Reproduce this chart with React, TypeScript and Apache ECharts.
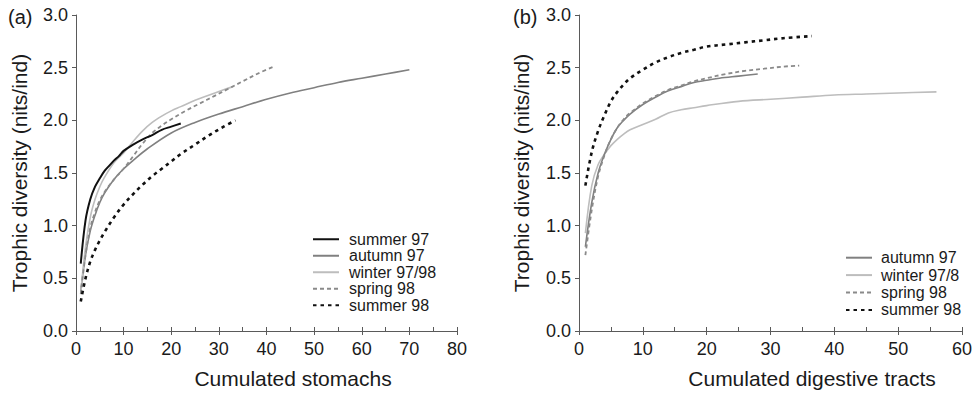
import React, { useEffect, useRef } from "react";
import * as echarts from "echarts";

// ---- Panel (a): cumulated stomachs ----
const aSummer97: number[][] = [[1,0.64],[2,1.05],[3,1.25],[4,1.37],[5,1.45],[6,1.52],[7,1.57],[8,1.62],[9,1.66],[10,1.71],[12,1.77],[14,1.82],[16,1.86],[18,1.91],[20,1.94],[22,1.97]];
const aAutumn97: number[][] = [[1,0.38],[2,0.72],[3,0.95],[4,1.1],[5,1.22],[6,1.31],[8,1.44],[10,1.54],[12,1.62],[15,1.73],[20,1.88],[25,1.98],[30,2.06],[35,2.13],[40,2.2],[45,2.26],[50,2.31],[55,2.36],[60,2.4],[65,2.44],[70,2.48]];
const aWinter9798: number[][] = [[1,0.36],[2,0.8],[3,1.08],[4,1.25],[5,1.37],[6,1.46],[8,1.6],[10,1.69],[12,1.8],[14,1.9],[16,1.98],[18,2.04],[20,2.09],[22,2.13],[25,2.19],[28,2.24],[31,2.29],[33,2.32]];
const aSpring98: number[][] = [[1,0.35],[2,0.72],[3,0.98],[4,1.13],[5,1.24],[6,1.32],[8,1.44],[10,1.54],[12,1.66],[14,1.78],[16,1.88],[18,1.95],[20,2.01],[23,2.09],[26,2.16],[29,2.23],[32,2.3],[35,2.37],[38,2.44],[41.5,2.51]];
const aSummer98: number[][] = [[1,0.28],[2,0.5],[3,0.66],[4,0.77],[5,0.86],[6,0.94],[8,1.08],[10,1.2],[12,1.3],[14,1.39],[16,1.47],[18,1.54],[20,1.61],[22,1.68],[25,1.77],[28,1.86],[31,1.94],[33.5,2.0]];

// ---- Panel (b): cumulated digestive tracts ----
const bAutumn97: number[][] = [[1,0.8],[2,1.22],[3,1.5],[4,1.68],[5,1.82],[6,1.93],[7,2.0],[8,2.06],[10,2.15],[12,2.22],[14,2.28],[16,2.32],[18,2.36],[20,2.38],[22,2.4],[25,2.42],[28,2.44]];
const bWinter978: number[][] = [[1,0.93],[2,1.38],[3,1.58],[4,1.68],[5,1.76],[6,1.82],[7,1.87],[8,1.91],[10,1.96],[12,2.01],[14,2.07],[16,2.1],[18,2.12],[20,2.14],[25,2.18],[30,2.2],[35,2.22],[40,2.24],[45,2.25],[50,2.26],[56,2.27]];
const bSpring98: number[][] = [[1,0.72],[2,1.15],[3,1.47],[4,1.67],[5,1.82],[6,1.93],[7,2.01],[8,2.07],[10,2.16],[12,2.23],[14,2.29],[16,2.33],[18,2.37],[20,2.4],[23,2.44],[26,2.47],[29,2.49],[32,2.51],[34.5,2.52]];
const bSummer98: number[][] = [[1,1.38],[2,1.7],[3,1.9],[4,2.05],[5,2.18],[6,2.27],[7,2.34],[8,2.4],[10,2.48],[12,2.55],[14,2.6],[16,2.64],[18,2.67],[20,2.7],[23,2.72],[26,2.74],[29,2.76],[32,2.78],[36.5,2.8]];

const legendA = ["summer 97", "autumn 97", "winter 97/98", "spring 98", "summer 98"];
const legendB = ["autumn 97", "winter 97/8", "spring 98", "summer 98"];
const yTitle = "Trophic diversity (nits/ind)";
const xTitleA = "Cumulated stomachs";
const xTitleB = "Cumulated digestive tracts";

const FONT = "Liberation Sans, Arial, Helvetica, sans-serif";
const TXT = "#1a1a1a";
const AX = "#5a5a5a";

const styles: Record<string, any> = {
  "summer 97": { color: "#111", width: 2, type: "solid" },
  "autumn 97": { color: "#808080", width: 1.6, type: "solid" },
  "winter 97/98": { color: "#bdbdbd", width: 1.6, type: "solid" },
  "winter 97/8": { color: "#bdbdbd", width: 1.6, type: "solid" },
  "spring 98": { color: "#8a8a8a", width: 1.8, type: [4, 3] },
  "summer 98": { color: "#111", width: 2.6, type: [3.5, 4] },
};

function mkSeries(name: string, data: number[][], idx: number) {
  const s = styles[name];
  return {
    type: "line",
    name,
    data,
    xAxisIndex: idx * 2,
    yAxisIndex: idx,
    smooth: 0.35,
    symbol: "none",
    showSymbol: false,
    lineStyle: { color: s.color, width: s.width, type: s.type },
    itemStyle: { color: s.color },
    z: 3,
  };
}

function mkXMain(gridIndex: number, max: number) {
  return {
    type: "value",
    gridIndex,
    min: 0,
    max,
    interval: 10,
    position: "bottom",
    axisLine: { show: true, onZero: false, lineStyle: { color: AX, width: 1 } },
    axisTick: { show: true, inside: false, length: 4, lineStyle: { color: AX } },
    axisLabel: { color: TXT, fontSize: 18, fontFamily: FONT, margin: 9 },
    splitLine: { show: false },
  };
}

function mkXMinor(gridIndex: number, max: number) {
  return {
    type: "value",
    gridIndex,
    min: 0,
    max,
    interval: 5,
    position: "bottom",
    axisLine: { show: false, onZero: false },
    axisTick: { show: true, inside: true, length: 4, lineStyle: { color: AX } },
    axisLabel: { show: false },
    splitLine: { show: false },
  };
}

function mkY(gridIndex: number, gap: number) {
  return {
    type: "value",
    gridIndex,
    min: 0,
    max: 3,
    interval: 0.5,
    name: yTitle,
    nameLocation: "middle",
    nameGap: gap,
    nameTextStyle: { color: TXT, fontSize: 21, fontFamily: FONT },
    axisLine: { show: true, onZero: false, lineStyle: { color: AX, width: 1 } },
    axisTick: { show: true, inside: false, length: 4, lineStyle: { color: AX } },
    axisLabel: {
      color: TXT,
      fontSize: 18,
      fontFamily: FONT,
      margin: 8,
      formatter: (v: number) => v.toFixed(1),
    },
    splitLine: { show: false },
  };
}

export default function App() {
  const ref = useRef<HTMLDivElement>(null);
  useEffect(() => {
    if (!ref.current) return;
    const chart = echarts.init(ref.current, undefined, { renderer: "svg" });
    const legendCommon = {
      orient: "vertical",
      itemWidth: 26,
      itemHeight: 10,
      itemGap: 0,
      selectedMode: false,
      itemStyle: { opacity: 0 },
    };
    const option: any = {
      animation: false,
      backgroundColor: "#fff",
      textStyle: { fontFamily: FONT },
      grid: [
        { left: 76, top: 15, width: 381, height: 316 },
        { left: 579, top: 15, width: 384, height: 316 },
      ],
      xAxis: [mkXMain(0, 80), mkXMinor(0, 80), mkXMain(1, 60), mkXMinor(1, 60)],
      yAxis: [mkY(0, 46), mkY(1, 47)],
      legend: [
        {
          ...legendCommon,
          data: legendA,
          left: 307,
          top: 226,
          textStyle: { color: TXT, fontSize: 16, fontFamily: FONT, lineHeight: 16.5, padding: [0, 0, 0, 5] },
        },
        {
          ...legendCommon,
          data: legendB,
          left: 840,
          top: 244,
          textStyle: { color: TXT, fontSize: 16, fontFamily: FONT, lineHeight: 17.4, padding: [0, 0, 0, 4] },
        },
      ],
      graphic: [
        { type: "text", left: 8, top: 7, style: { text: "(a)", fontSize: 20, fontFamily: FONT, fill: TXT } },
        { type: "text", left: 513, top: 7, style: { text: "(b)", fontSize: 20, fontFamily: FONT, fill: TXT } },
        {
          type: "text",
          x: 293,
          y: 368,
          style: { text: xTitleA, fontSize: 21, fontFamily: FONT, fill: TXT, align: "center", verticalAlign: "top" },
        },
        {
          type: "text",
          x: 812,
          y: 368,
          style: { text: xTitleB, fontSize: 21, fontFamily: FONT, fill: TXT, align: "center", verticalAlign: "top" },
        },
      ],
      series: [
        mkSeries("autumn 97", aAutumn97, 0),
        mkSeries("winter 97/98", aWinter9798, 0),
        mkSeries("spring 98", aSpring98, 0),
        mkSeries("summer 98", aSummer98, 0),
        mkSeries("summer 97", aSummer97, 0),
        mkSeries("winter 97/8", bWinter978, 1),
        mkSeries("autumn 97", bAutumn97, 1),
        mkSeries("spring 98", bSpring98, 1),
        mkSeries("summer 98", bSummer98, 1),
      ],
    };
    chart.setOption(option);
    return () => chart.dispose();
  }, []);
  return (
    <div
      ref={ref}
      style={{ position: "fixed", left: 0, top: 0, width: 975, height: 394, background: "#fff" }}
    />
  );
}
